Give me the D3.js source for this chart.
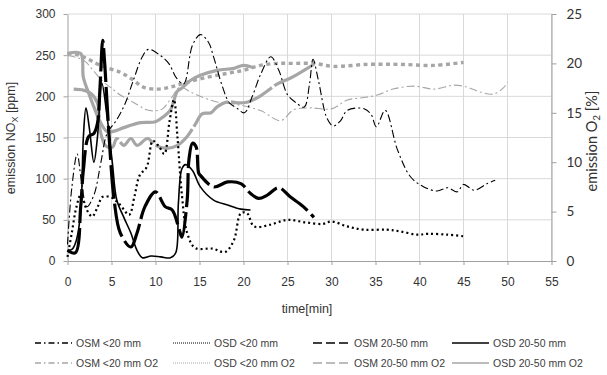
<!DOCTYPE html>
<html>
<head>
<meta charset="utf-8">
<script src="https://cdn.jsdelivr.net/npm/d3@7"></script>
<style>
  body { margin: 0; background: #fff; }
  text { font-family: "Liberation Sans", Arial, sans-serif; fill: #333; }
</style>
</head>
<body>
<svg id="SVG_CONTAINER" width="607" height="375"></svg>
<script>
// NOx series [time min, ppm]
const osmSmall = [[0,20],[0.5,90],[1.1,130],[1.6,95],[2.2,66],[3.0,80],[3.8,120],[4.5,155],[5.5,170],[6.5,190],[7.5,220],[8.5,248],[9.2,257],[10.5,250],[11.5,240],[12.4,222],[13.2,215],[14.2,262],[15.1,275],[16,266],[16.6,248],[17.6,212],[18.4,192],[19.2,186],[20.1,180],[21,200],[22,228],[23.1,248],[24,232],[25,202],[26,192],[26.9,187],[27.5,215],[27.9,245],[28.5,220],[29.5,173],[30.2,164],[31,170],[31.8,183],[33.7,185],[34.5,178],[35.1,163],[36.1,183],[37.5,135],[39,102],[40.5,90],[42,85],[43.2,89],[44.3,84],[45,93],[46.2,86],[47.7,94],[48.6,98]];
const osdSmall = [[0,5],[0.5,35],[1,65],[1.5,80],[2.2,62],[2.8,54],[3.4,65],[4,78],[5,77],[6,68],[7,56],[7.6,78],[8.2,104],[9,114],[9.7,146],[10.4,139],[11,130],[11.6,170],[12.1,196],[12.5,150],[13,80],[13.6,34],[14.5,16],[16.5,15],[17.9,11],[18.9,25],[19.7,58],[20.4,58],[21.2,42],[23,44],[25,50],[27,47],[29,45],[30,48],[31.8,42],[33.7,38],[36.3,38],[37.8,36],[39.7,32],[41,33],[43.2,32],[45,30]];
const osmLarge = [[0,13],[0.9,10],[1.5,66],[1.8,110],[2.4,151],[3,155],[3.4,167],[3.7,212],[4,268],[4.2,244],[4.5,191],[4.9,123],[5.3,74],[6,34],[7.2,17],[7.9,34],[8.8,66],[10,84],[11.1,66],[11.9,62],[12.7,38],[13,29],[13.6,74],[13.8,123],[14.2,143],[14.6,139],[14.9,107],[15.1,104],[16.6,90],[18.2,96],[19.7,94],[20.8,82],[21.7,76],[22.7,80],[24,89],[25.3,78],[26.8,66],[28,53]];
const osdLarge = [[0,13],[0.5,14],[1,25],[1.5,60],[1.8,150],[2.1,186],[2.5,160],[3,120],[3.4,150],[3.9,216],[4.5,175],[5.1,119],[5.6,74],[6.4,53],[7.2,34],[7.9,13],[8.5,4],[9.5,6],[10.6,5],[11.7,4],[12.3,10],[12.6,70],[13,112],[13.4,117],[14.2,110],[15.1,90],[16.6,74],[18.2,68],[19.7,63],[20.8,62]];

// O2 series [time min, %]
const osmSmallO2 = [[0,20.8],[1,20.6],[2,20.2],[3,19.2],[4,18.2],[5,17.5],[6,16.8],[7,16.3],[8,15.8],[9,15.3],[10,15.2],[10.8,15.4],[11.8,16.5],[12.8,17.6],[14,17.1],[15,16.7],[17,16.1],[19.5,15.8],[22,15.2],[24.2,14.2],[25.7,15.3],[27.5,15.5],[30,15.4],[31.8,16.3],[33.3,16.5],[35.2,16.8],[37,17.4],[39.4,17.7],[41.7,17.4],[43.9,17.8],[45.4,17.6],[46.9,17.1],[48.4,16.9],[49.5,17.5],[50,18.1]];
const osdSmallO2 = [[0,21.0],[1,20.9],[2.2,20.5],[3.7,19.8],[6,19.1],[7.5,18.3],[8.6,17.6],[10.2,17.4],[11.7,17.6],[13.6,18.1],[15.9,18.6],[18.2,19.0],[20,19.3],[21.9,19.8],[23.8,20.0],[25.7,20.0],[28,20.0],[30.2,19.7],[34.1,19.9],[37.8,19.9],[41.6,19.8],[45,20.1]];
const osmLargeO2 = [[0.7,17.4],[1.8,17.3],[2.6,17.0],[3.4,16.0],[3.7,13.3],[4.3,11.7],[5.1,11.5],[5.6,12.4],[6.4,11.7],[7.2,12.4],[7.9,11.7],[9.1,12.4],[10,11.7],[11.3,11.4],[12.5,11.7],[13.6,12.6],[14.5,13.8],[15.3,14.9],[16.3,15.0],[17,15.6],[18.2,16.1],[19.5,16.0],[20.5,16.1],[21.9,16.7],[23.8,17.9],[25.3,18.5],[26.5,19.1],[28,19.9]];
const osdLargeO2 = [[0,21.0],[1.5,21.0],[1.8,18.6],[2.4,17],[3,15.6],[3.6,14.3],[4.5,13.1],[5.5,13.2],[6.4,13.5],[8.3,14.0],[10,14.1],[10.9,14.6],[11.7,15.3],[12.5,17.2],[13,17.5],[14,18.3],[15.1,18.8],[17,19.3],[18.9,19.5],[20,19.8],[21,19.6]];

const xTicks = [0,5,10,15,20,25,30,35,40,45,50,55];
const noxTicks = [0,50,100,150,200,250,300];
const o2Ticks = [0,5,10,15,20,25];

const legendLabels = ["OSM <20 mm","OSD <20 mm","OSM 20-50 mm","OSD 20-50 mm",
                      "OSM <20 mm O2","OSD <20 mm O2","OSM 20-50 mm O2","OSD 20-50 mm O2"];

const BLACK = "#000", GREY = "#a6a6a6";

// line styles, same order as legend
const styles = [
    {data: osmSmall,   axis: "L", color: BLACK, w: 1.1, dash: "8,3,2,3",  lw: 1.3, ldash: "6,3,1.5,3"},
    {data: osdSmall,   axis: "L", color: BLACK, w: 2.2, dash: "2,3",      lw: 1,   ldash: "1,1"},
    {data: osmLarge,   axis: "L", color: BLACK, w: 3.2, dash: "34,5",     lw: 1.6, ldash: "9,4"},
    {data: osdLarge,   axis: "L", color: BLACK, w: 1.6, dash: null,       lw: 1.6},
    {data: osmSmallO2, axis: "R", color: GREY,  w: 1.1, dash: "8,3,2,3",  lw: 1.3, ldash: "6,3,1.5,3"},
    {data: osdSmallO2, axis: "R", color: GREY,  w: 3.4, dash: "4,3.5",    lw: 1,   ldash: "1,1"},
    {data: osmLargeO2, axis: "R", color: GREY,  w: 3.2, dash: "45,3",     lw: 1.6, ldash: "9,4"},
    {data: osdLargeO2, axis: "R", color: GREY,  w: 3.2, dash: null,       lw: 1.6}
];

const svg = d3.select("#SVG_CONTAINER");

const x = d3.scaleLinear().domain([0,55]).range([67.5, 551.5]);
const yL = d3.scaleLinear().domain([0,300]).range([261, 14]);
const yR = d3.scaleLinear().domain([0,25]).range([261, 14]);

//grid
svg.append("g").selectAll("line.v")
    .data(xTicks.slice(1))
    .enter().append("line")
    .attr("x1", d => x(d)).attr("x2", d => x(d))
    .attr("y1", yL(0)).attr("y2", yL(300))
    .attr("stroke", "#d9d9d9").attr("stroke-width", 1);
svg.append("g").selectAll("line.h")
    .data(noxTicks.slice(1))
    .enter().append("line")
    .attr("x1", x(0)).attr("x2", x(55))
    .attr("y1", d => yL(d)).attr("y2", d => yL(d))
    .attr("stroke", "#d9d9d9").attr("stroke-width", 1);

//axes
function styleAxis(g) {
    g.selectAll(".domain").attr("stroke", "#a0a0a0");
    g.selectAll(".tick line").attr("stroke", "#a0a0a0");
    g.selectAll(".tick text").attr("fill", "#333");
}
svg.append("g")
    .attr("transform", "translate(0," + yL(0) + ")")
    .call(d3.axisBottom(x).tickValues(xTicks).tickSize(4).tickSizeOuter(0).tickPadding(12))
    .call(styleAxis)
    .selectAll("text").style("font-size", "12px").style("font-family", "Liberation Sans, Arial");
svg.append("g")
    .attr("transform", "translate(" + x(0) + ",0)")
    .call(d3.axisLeft(yL).tickValues(noxTicks).tickSize(4).tickSizeOuter(0).tickPadding(8))
    .call(styleAxis)
    .selectAll("text").style("font-size", "12px").style("font-family", "Liberation Sans, Arial");
svg.append("g")
    .attr("transform", "translate(" + x(55) + ",0)")
    .call(d3.axisRight(yR).tickValues(o2Ticks).tickSize(5).tickSizeOuter(0).tickPadding(10))
    .call(styleAxis)
    .selectAll("text").style("font-size", "13.5px").style("font-family", "Lato, 'Open Sans', sans-serif");

//axis titles
svg.append("text")
    .attr("x", 307).attr("y", 313)
    .attr("text-anchor", "middle")
    .style("font-size", "12.5px")
    .text("time[min]");

let lt = svg.append("text")
    .attr("transform", "translate(15,138) rotate(-90)")
    .attr("text-anchor", "middle")
    .style("font-size", "12.5px");
lt.append("tspan").text("emission NO");
lt.append("tspan").attr("dy", 3).style("font-size", "9px").text("X");
lt.append("tspan").attr("dy", -3).text(" [ppm]");

let rt = svg.append("text")
    .attr("transform", "translate(597,141) rotate(-90)")
    .attr("text-anchor", "middle")
    .style("font-family", "Lato, 'Open Sans', sans-serif")
    .style("font-size", "14.5px");
rt.append("tspan").text("emission O");
rt.append("tspan").attr("dy", 3).style("font-size", "10px").text("2");
rt.append("tspan").attr("dy", -3).text(" [%]");

//series
const line = d3.line()
    .x(d => x(d[0]))
    .curve(d3.curveCatmullRom.alpha(0.5));

// grey first, black on top
const drawOrder = [4,5,6,7,0,1,2,3];
drawOrder.forEach(function(i) {
    let s = styles[i];
    let yScale = s.axis === "L" ? yL : yR;
    svg.append("path")
        .datum(s.data)
        .attr("fill", "none")
        .attr("stroke", s.color)
        .attr("stroke-width", s.w)
        .attr("stroke-dasharray", s.dash)
        .attr("stroke-linejoin", "round")
        .attr("d", line.y(d => yScale(d[1])));
});

//legend
const legX = [35, 173, 313, 452];
const legY = [343, 363];
styles.forEach(function(s, i) {
    let col = i % 4, row = Math.floor(i / 4);
    let g = svg.append("g").attr("transform", "translate(" + legX[col] + "," + legY[row] + ")");
    g.append("line")
        .attr("x1", 0).attr("x2", 37)
        .attr("y1", 0).attr("y2", 0)
        .attr("stroke", s.color)
        .attr("stroke-width", s.lw)
        .attr("stroke-dasharray", s.ldash || s.dash);
    g.append("text")
        .attr("x", 41).attr("y", 4)
        .style("font-size", "10.5px")
        .style("fill", "#404040")
        .text(legendLabels[i]);
});
</script>
</body>
</html>
